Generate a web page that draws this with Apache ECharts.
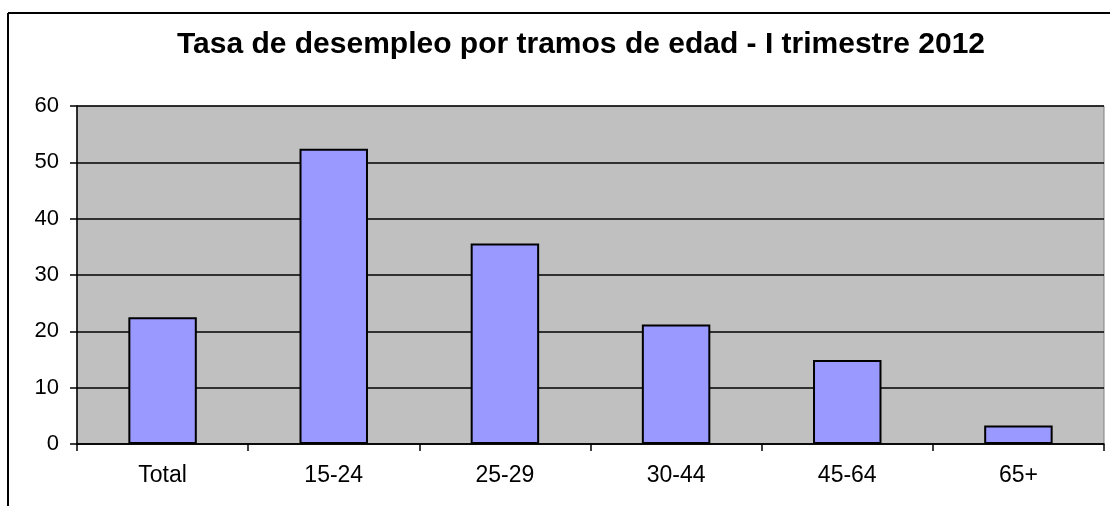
<!DOCTYPE html>
<html>
<head>
<meta charset="utf-8">
<script src="https://cdn.jsdelivr.net/npm/echarts@6/dist/echarts.min.js"></script>
<style>
    html, body { margin: 0; padding: 0; background: #fff; }
    #chart { width: 1110px; height: 506px; }
</style>
</head>
<body>
<div id="chart"></div>
<script>
var categories = ['Total', '15-24', '25-29', '30-44', '45-64', '65+'];
var tasaValues = [22.5, 52.4, 35.6, 21.2, 14.9, 3.3];
var yTicks = { min: 0, max: 60, interval: 10 };

// marco exterior: solo se ven el borde superior e izquierdo
var frameStyle = { stroke: '#000', lineWidth: 2 };

var option_tasa = {
    animation: false,
    backgroundColor: '#fff',
    title: {
        text: 'Tasa de desempleo por tramos de edad - I trimestre 2012',
        left: 576,
        top: 25,
        textAlign: 'center',
        textStyle: {
            fontFamily: 'Liberation Sans, Arial, sans-serif',
            fontSize: 30,
            fontWeight: 'bold',
            color: '#000'
        }
    },
    graphic: [
        {
            type: 'line',
            shape: { x1: 8, y1: 13, x2: 1110, y2: 13 },
            style: frameStyle,
            silent: true
        },
        {
            type: 'line',
            shape: { x1: 8, y1: 13, x2: 8, y2: 506 },
            style: frameStyle,
            silent: true
        }
    ],
    grid: {
        left: 77,
        top: 106,
        right: 6,
        bottom: 62,
        show: true,
        backgroundColor: '#c0c0c0',
        borderColor: '#808080',
        borderWidth: 1
    },
    xAxis: {
        type: 'category',
        data: categories,
        axisLine: { lineStyle: { color: '#000', width: 1.5 } },
        axisTick: { show: true, length: 7, lineStyle: { color: '#000', width: 1.5 } },
        axisLabel: {
            margin: 20,
            color: '#000',
            fontFamily: 'Liberation Sans, Arial, sans-serif',
            fontSize: 23
        }
    },
    yAxis: {
        type: 'value',
        min: yTicks.min,
        max: yTicks.max,
        interval: yTicks.interval,
        axisLine: { show: true, lineStyle: { color: '#000', width: 1.5 } },
        axisTick: { show: true, length: 7, lineStyle: { color: '#000', width: 1.5 } },
        splitLine: { lineStyle: { color: '#000', width: 1.5 } },
        axisLabel: {
            margin: 18,
            color: '#000',
            fontFamily: 'Liberation Sans, Arial, sans-serif',
            fontSize: 22
        }
    },
    series: [{
        name: 'Tasa',
        type: 'bar',
        barWidth: '40%',
        data: tasaValues,
        itemStyle: {
            color: '#9999ff',
            borderColor: '#000',
            borderWidth: 2
        }
    }]
};

var tasaChart = echarts.init(document.getElementById('chart'));
tasaChart.setOption(option_tasa, true);
</script>
</body>
</html>
